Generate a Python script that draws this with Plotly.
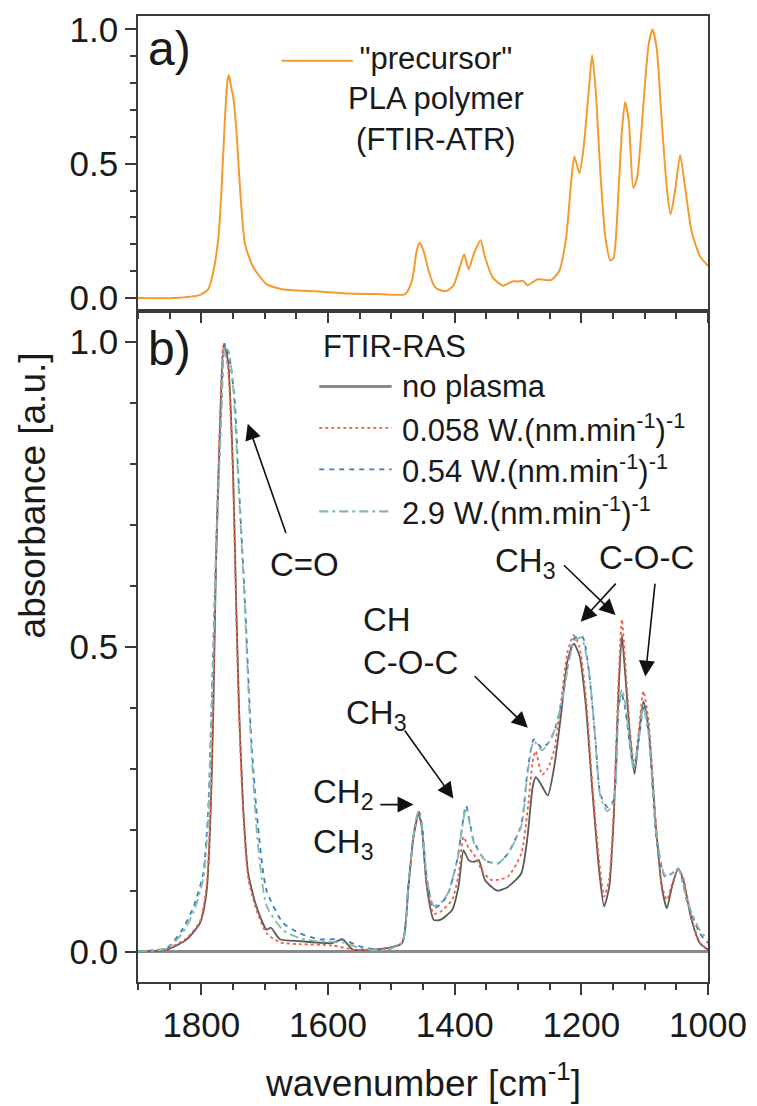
import plotly.graph_objects as go

# ---------------- data ----------------
# (a) precursor PLA polymer, FTIR-ATR: (wavenumber cm^-1, normalised absorbance)
pla_atr = [
    (1900, 0.0), (1843, 0.0), (1802, 0.012), (1789, 0.033), (1781, 0.10), (1773, 0.225),
    (1768, 0.41), (1763, 0.657), (1759, 0.805), (1756.5, 0.83), (1752, 0.774), (1750, 0.755),
    (1744.5, 0.62), (1739, 0.41), (1731, 0.20), (1718, 0.115), (1697, 0.052), (1672, 0.033),
    (1619, 0.025), (1567, 0.017), (1520, 0.015), (1478, 0.015), (1467.5, 0.064), (1460, 0.175),
    (1455.6, 0.206), (1449, 0.175), (1441, 0.10), (1431, 0.04), (1415, 0.025), (1402, 0.046),
    (1392, 0.114), (1385, 0.163), (1378, 0.107), (1370, 0.163), (1359, 0.215), (1352, 0.151),
    (1340, 0.077), (1324, 0.046), (1309, 0.062), (1300, 0.062), (1292, 0.064), (1285, 0.048),
    (1269, 0.07), (1248, 0.067), (1235, 0.10), (1224, 0.225), (1216, 0.434), (1211, 0.527),
    (1203, 0.465), (1196, 0.57), (1188, 0.78), (1183, 0.904), (1177.5, 0.78), (1170, 0.47),
    (1162, 0.225), (1154, 0.14), (1149, 0.15), (1141, 0.41), (1136, 0.62), (1131, 0.73),
    (1125, 0.657), (1118, 0.41), (1112, 0.447), (1102, 0.72), (1094, 0.94), (1087.5, 1.0),
    (1081, 0.93), (1073, 0.657), (1065, 0.41), (1059, 0.311), (1052, 0.40), (1044, 0.533),
    (1036, 0.41), (1026, 0.25), (1013, 0.157), (1000, 0.12),
]

# (b) FTIR-RAS films
no_plasma = [
    (1900, 0.0), (1854, 0.003), (1823, 0.02), (1802, 0.047), (1791.5, 0.10), (1785, 0.237),
    (1781, 0.40), (1777, 0.627), (1771, 0.845), (1764.5, 0.997), (1758, 0.97), (1750, 0.79),
    (1745, 0.573), (1740.5, 0.40), (1734, 0.237), (1726, 0.128), (1713, 0.074), (1697, 0.036),
    (1690, 0.039), (1676, 0.02), (1645, 0.017), (1593, 0.014), (1577, 0.02), (1561, 0.003),
    (1535, 0.003), (1504, 0.006), (1483, 0.014), (1473, 0.106), (1465, 0.188), (1457, 0.226),
    (1452, 0.204), (1444, 0.106), (1433, 0.052), (1423, 0.052), (1404, 0.068), (1394, 0.106),
    (1386, 0.166), (1378, 0.15), (1370, 0.147), (1362, 0.15), (1352, 0.117), (1333, 0.10),
    (1316, 0.106), (1295, 0.128), (1285, 0.188), (1277, 0.269), (1272, 0.286), (1264, 0.275),
    (1253, 0.256), (1243, 0.302), (1232, 0.389), (1222, 0.476), (1212, 0.505), (1203, 0.486),
    (1193, 0.405), (1183, 0.269), (1172, 0.134), (1164, 0.074), (1156, 0.106), (1149, 0.215),
    (1141, 0.432), (1136, 0.519), (1131, 0.459), (1123, 0.351), (1116, 0.291), (1109.5, 0.351),
    (1102, 0.41), (1094, 0.367), (1083, 0.215), (1073, 0.106), (1065, 0.071), (1057, 0.106),
    (1047, 0.136), (1039, 0.117), (1026, 0.052), (1013, 0.014), (1000, 0.003),
]

p_0058 = [
    (1900, 0.0), (1854, 0.005), (1823, 0.022), (1802, 0.05), (1791.5, 0.11), (1785, 0.25),
    (1781, 0.42), (1777, 0.65), (1771, 0.86), (1765, 0.995), (1758, 0.96), (1750, 0.78),
    (1745, 0.56), (1740.5, 0.39), (1734, 0.23), (1726, 0.12), (1713, 0.068), (1697, 0.03),
    (1676, 0.015), (1645, 0.012), (1593, 0.01), (1561, 0.003), (1535, 0.003), (1504, 0.006),
    (1483, 0.015), (1473, 0.11), (1465, 0.19), (1457, 0.23), (1452, 0.21), (1444, 0.11),
    (1433, 0.062), (1423, 0.065), (1404, 0.085), (1394, 0.125), (1386, 0.188), (1378, 0.17),
    (1370, 0.16), (1355, 0.13), (1341, 0.117), (1316, 0.123), (1295, 0.16), (1285, 0.23),
    (1277, 0.31), (1272, 0.329), (1262, 0.29), (1253, 0.30), (1243, 0.33), (1232, 0.41),
    (1222, 0.49), (1212, 0.519), (1203, 0.50), (1193, 0.42), (1183, 0.28), (1172, 0.15),
    (1164, 0.09), (1156, 0.12), (1149, 0.23), (1141, 0.45), (1136, 0.545), (1131, 0.48),
    (1123, 0.36), (1116, 0.30), (1109.5, 0.36), (1102, 0.427), (1094, 0.38), (1083, 0.22),
    (1073, 0.11), (1065, 0.085), (1057, 0.11), (1047, 0.136), (1039, 0.12), (1026, 0.055),
    (1013, 0.015), (1000, 0.003),
]

p_054 = [
    (1900, 0.0), (1854, 0.006), (1830, 0.036), (1812, 0.074), (1797, 0.128), (1789, 0.237),
    (1782.5, 0.454), (1776, 0.682), (1768, 0.90), (1763, 0.997), (1755, 0.97), (1747, 0.90),
    (1742, 0.79), (1736.5, 0.682), (1731, 0.573), (1726, 0.454), (1721, 0.345), (1711, 0.21),
    (1697, 0.10), (1671, 0.047), (1645, 0.03), (1614, 0.02), (1577, 0.02), (1551, 0.009),
    (1520, 0.003), (1504, 0.004), (1483, 0.014), (1473, 0.11), (1465, 0.19), (1457, 0.231),
    (1452, 0.21), (1444, 0.12), (1433, 0.071), (1420, 0.08), (1410, 0.096), (1396, 0.15),
    (1382, 0.239), (1370, 0.182), (1352, 0.15), (1332, 0.144), (1316, 0.161), (1295, 0.207),
    (1285, 0.296), (1275, 0.348), (1262, 0.334), (1250, 0.345), (1240, 0.37), (1229, 0.421),
    (1211, 0.514), (1198, 0.516), (1188, 0.459), (1178, 0.351), (1170, 0.258), (1159, 0.237),
    (1149, 0.248), (1141, 0.405), (1136, 0.421), (1131, 0.40), (1117.5, 0.302), (1109, 0.35),
    (1102, 0.40), (1094, 0.36), (1081, 0.182), (1068, 0.123), (1057, 0.128), (1047, 0.136),
    (1032, 0.079), (1013, 0.03), (1000, 0.014),
]

p_29 = [
    (1900, 0.0), (1854, 0.005), (1830, 0.03), (1812, 0.065), (1797, 0.12), (1789, 0.22),
    (1782.5, 0.44), (1776, 0.67), (1768, 0.89), (1763, 0.99), (1757, 0.985), (1750, 0.93),
    (1744, 0.82), (1738, 0.70), (1732, 0.58), (1727, 0.46), (1721, 0.33), (1711, 0.18),
    (1697, 0.075), (1671, 0.035), (1645, 0.022), (1614, 0.016), (1577, 0.015), (1551, 0.006),
    (1520, 0.002), (1504, 0.004), (1483, 0.014), (1473, 0.11), (1465, 0.19), (1457, 0.23),
    (1452, 0.21), (1444, 0.12), (1433, 0.075), (1420, 0.082), (1410, 0.097), (1396, 0.15),
    (1382, 0.235), (1370, 0.18), (1352, 0.15), (1332, 0.145), (1316, 0.16), (1295, 0.205),
    (1285, 0.29), (1275, 0.345), (1262, 0.33), (1250, 0.345), (1240, 0.37), (1229, 0.42),
    (1211, 0.51), (1200, 0.515), (1188, 0.46), (1178, 0.35), (1170, 0.255), (1159, 0.23),
    (1149, 0.245), (1141, 0.40), (1136, 0.43), (1131, 0.41), (1117.5, 0.30), (1109, 0.35),
    (1102, 0.405), (1094, 0.36), (1081, 0.19), (1068, 0.125), (1057, 0.128), (1047, 0.136),
    (1032, 0.08), (1013, 0.035), (1000, 0.02),
]

x_ticks = [1800, 1600, 1400, 1200, 1000]
y_ticks = [0.0, 0.5, 1.0]

ras_names = ["no plasma",
             "0.058 W.(nm.min<sup>-1</sup>)<sup>-1</sup>",
             "0.54 W.(nm.min<sup>-1</sup>)<sup>-1</sup>",
             "2.9 W.(nm.min<sup>-1</sup>)<sup>-1</sup>"]

# ---------------- styling ----------------
FONT = "Liberation Sans, Arial, sans-serif"
INK = "#1a1a1a"
AXIS = "#3a3a3a"
ORANGE = "#f59a2f"
ras_styles = [
    dict(color="#5a5a5a", width=1.8, dash="solid"),
    dict(color="#ef6140", width=1.8, dash="dot"),
    dict(color="#3a7cc4", width=1.8, dash="5px,5px"),
    dict(color="#86b9ad", width=1.8, dash="9px,4px,3px,4px"),
]
legend_styles = [
    dict(color="#8a8a8a", width=3.0, dash="solid"),
    dict(color="#ef6140", width=1.8, dash="dot"),
    dict(color="#3a7cc4", width=1.8, dash="5px,5px"),
    dict(color="#86b9ad", width=2.2, dash="9px,4px,3px,4px"),
]


def unzip(pairs):
    return [p[0] for p in pairs], [p[1] for p in pairs]


fig = go.Figure()

xa, ya = unzip(pla_atr)
fig.add_trace(go.Scatter(x=xa, y=ya, mode="lines", xaxis="x", yaxis="y",
                         line=dict(color=ORANGE, width=2, shape="spline", smoothing=0.6),
                         showlegend=False, hoverinfo="skip"))

for series, style in zip([no_plasma, p_0058, p_054, p_29], ras_styles):
    xs, ys = unzip(series)
    fig.add_trace(go.Scatter(x=xs, y=ys, mode="lines", xaxis="x2", yaxis="y2",
                             line=dict(shape="spline", smoothing=0.6, **style),
                             showlegend=False, hoverinfo="skip"))

SPLIT = 0.6941
TICKFONT = dict(size=35, color=INK, family=FONT)
common_x = dict(range=[1900, 1000], tickvals=x_ticks, showgrid=False, zeroline=False,
                showline=True, mirror=True, linecolor=AXIS, linewidth=1.8,
                ticks="outside", tickwidth=1.5, tickcolor=AXIS,
                minor=dict(dtick=50, tick0=1000, ticks="outside", ticklen=6,
                           tickwidth=1.5, tickcolor=AXIS))
common_y = dict(range=[-0.05, 1.05], tickvals=y_ticks, tickformat=".1f", showgrid=False,
                showline=True, mirror=True, linecolor=AXIS, linewidth=1.8,
                ticks="outside", ticklen=11, tickwidth=1.5, tickcolor=AXIS,
                tickfont=TICKFONT,
                minor=dict(dtick=0.1, tick0=0, ticks="outside", ticklen=6,
                           tickwidth=1.5, tickcolor=AXIS))

fig.update_layout(
    width=757, height=1106,
    margin=dict(l=137.5, r=45.5, t=10, b=123.5),
    paper_bgcolor="white", plot_bgcolor="white",
    font=dict(family=FONT, color=INK),
    xaxis=dict(domain=[0, 1], anchor="y", showticklabels=False, ticklen=10, **common_x),
    yaxis=dict(domain=[SPLIT, 1], anchor="x", zeroline=False, **common_y),
    xaxis2=dict(domain=[0, 1], anchor="y2", ticklen=11, tickfont=TICKFONT, **common_x),
    yaxis2=dict(domain=[0, SPLIT], anchor="x2", zeroline=True, zerolinecolor="#8a8a8a",
                zerolinewidth=3, **common_y),
)

ann = []
shapes = []

# panel tags
ann.append(dict(x=1850.6, y=0.930, xref="x", yref="y", text="a)", showarrow=False,
                font=dict(size=48, color=INK)))
ann.append(dict(x=1850.6, y=0.990, xref="x2", yref="y2", text="b)", showarrow=False,
                font=dict(size=48, color=INK)))

# legend of panel (a)
shapes.append(dict(type="line", xref="x", yref="y", x0=1673.6, x1=1560.7, y0=0.883, y1=0.883,
                   line=dict(color=ORANGE, width=2)))
ann.append(dict(x=1430, y=0.742, xref="x", yref="y",
                text="\"precursor\"<br>PLA polymer<br>(FTIR-ATR)", align="center",
                showarrow=False, font=dict(size=31, color=INK)))

# legend of panel (b)
ann.append(dict(x=1611, y=0.993, xref="x2", yref="y2", text="FTIR-RAS", xanchor="left",
                showarrow=False, font=dict(size=31, color=INK)))
leg_y = [0.927, 0.859, 0.791, 0.722]
for name, style, yy in zip(ras_names, legend_styles, leg_y):
    shapes.append(dict(type="line", xref="x2", yref="y2", x0=1613.8, x1=1499.4, y0=yy, y1=yy,
                       line=style))
    ann.append(dict(x=1486, y=yy, xref="x2", yref="y2", text=name, xanchor="left",
                    showarrow=False, font=dict(size=31, color=INK)))

# band assignments
labels = [
    (1637.4, 0.635, "C=O", "center"),
    (1626.4, 0.259, "CH<sub>2</sub>", "left"),
    (1626.4, 0.176, "CH<sub>3</sub>", "left"),
    (1574.6, 0.388, "CH<sub>3</sub>", "left"),
    (1548.5, 0.544, "CH", "left"),
    (1548.0, 0.474, "C-O-C", "left"),
    (1339.4, 0.638, "CH<sub>3</sub>", "left"),
    (1174.8, 0.646, "C-O-C", "left"),
]
for lx, ly, txt, anchor in labels:
    ann.append(dict(x=lx, y=ly, xref="x2", yref="y2", text=txt, xanchor=anchor,
                    showarrow=False, font=dict(size=33, color=INK)))

# arrows: (head x, head y, tail x, tail y)
arrows = [
    (1726.7, 0.866, 1665.6, 0.684),
    (1464.9, 0.241, 1519.8, 0.241),
    (1402.0, 0.251, 1480.6, 0.365),
    (1284.5, 0.367, 1370.8, 0.454),
    (1146.0, 0.552, 1229.7, 0.636),
    (1201.0, 0.541, 1143.4, 0.606),
    (1099.0, 0.451, 1083.4, 0.606),
]
for hx, hy, tx, ty in arrows:
    ann.append(dict(x=hx, y=hy, ax=tx, ay=ty, xref="x2", yref="y2", axref="x2", ayref="y2",
                    text="", showarrow=True, arrowhead=2, arrowsize=2, arrowwidth=1.6,
                    arrowcolor="#111111", standoff=0, startstandoff=0))

# axis titles
ann.append(dict(x=-0.1855, y=0.504, xref="paper", yref="paper", text="absorbance [a.u.]",
                xanchor="center", yanchor="middle",
                textangle=-90, showarrow=False, font=dict(size=37, color=INK)))
ann.append(dict(x=0.5, y=-0.1023, xref="paper", yref="paper",
                xanchor="center", yanchor="middle",
                text="wavenumber [cm<sup>-1</sup>]", showarrow=False,
                font=dict(size=37, color=INK)))

fig.update_layout(annotations=ann, shapes=shapes)
fig.write_html("out.html")
